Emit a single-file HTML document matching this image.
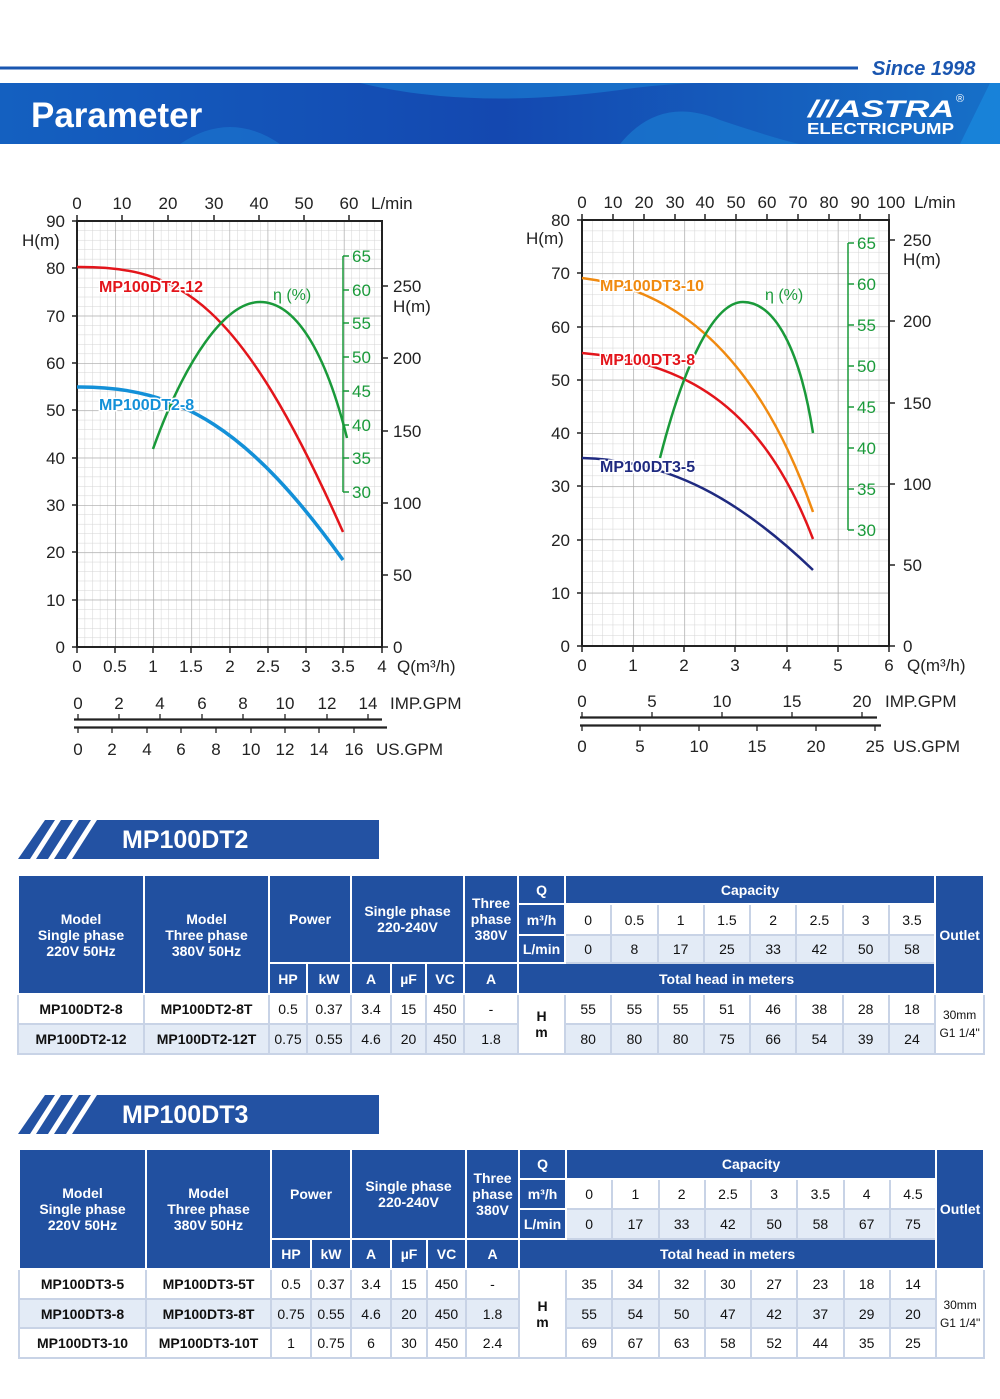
<!DOCTYPE html>
<html><head><meta charset="utf-8"><style>
body{margin:0;width:1000px;height:1399px;position:relative;background:#fff;font-family:"Liberation Sans",Arial,sans-serif;overflow:hidden}
svg{position:absolute;left:0;top:0}
table{position:absolute;border-collapse:collapse;table-layout:fixed;font-family:"Liberation Sans",Arial,sans-serif;font-size:14px;border:2px solid #2a5aa8}
td{border:2px solid #fff;text-align:center;padding:0;color:#111;overflow:hidden;white-space:nowrap}
td.h{background:#2150a0;color:#fff;font-weight:bold;line-height:16px}
td.w{background:#fff;border-color:#c8d3e6}
td.l{background:#e3ebf6;border-color:#c8d3e6}
td.b{font-weight:bold}
td.o{font-size:12px;line-height:18px;background:#fff;border-color:#c8d3e6}
.lab{paint-order:stroke;stroke:#fff;stroke-width:3px;font-weight:bold;font-size:16px}
</style></head><body>
<svg width="1000" height="1399" viewBox="0 0 1000 1399">
<defs>
<linearGradient id="bg" x1="0" x2="1" y1="0" y2="0"><stop offset="0" stop-color="#1460c0"/><stop offset="0.5" stop-color="#1448b0"/><stop offset="1" stop-color="#1670c8"/></linearGradient>
<pattern id="lmin" patternUnits="userSpaceOnUse" x="77" y="647" width="7.625" height="9.466"><path d="M0 0V9.466M0 0H7.625" stroke="#d4d4d4" stroke-width="1" fill="none"/></pattern>
<pattern id="lmaj" patternUnits="userSpaceOnUse" x="77" y="647" width="38.125" height="47.33"><path d="M0 0V47.33M0 0H38.125" stroke="#a8a8a8" stroke-width="1.2" fill="none"/></pattern>
<pattern id="rmin" patternUnits="userSpaceOnUse" x="582" y="646" width="10.233" height="10.65"><path d="M0 0V10.65M0 0H10.233" stroke="#d4d4d4" stroke-width="1" fill="none"/></pattern>
<pattern id="rmaj" patternUnits="userSpaceOnUse" x="582" y="646" width="51.17" height="53.25"><path d="M0 0V53.25M0 0H51.17" stroke="#a8a8a8" stroke-width="1.2" fill="none"/></pattern>
</defs>
<rect x="0" y="66.5" width="858" height="3" fill="#1a56b0"/>
<text x="872" y="75" font-size="20" font-weight="bold" font-style="italic" fill="#1a56b0">Since 1998</text>
<rect x="0" y="83" width="1000" height="61" fill="url(#bg)"/>
<path d="M360 83 Q470 110 620 90 Q660 84 700 83Z" fill="#1a7ad0" opacity="0.7"/>
<path d="M180 144 Q230 110 280 144Z" fill="#1a78d0" opacity="0.6"/>
<path d="M620 144 Q660 95 720 120 Q780 140 800 144Z" fill="#1a7ad0" opacity="0.7"/>
<path d="M960 144 L990 83 L1000 83 L1000 144Z" fill="#1a8ae0" opacity="0.7"/>
<text x="31" y="127" font-size="35" font-weight="bold" fill="#fff">Parameter</text>
<text x="808" y="117" font-size="24" font-weight="900" font-style="italic" fill="#fff" textLength="146" lengthAdjust="spacingAndGlyphs">///ASTRA</text>
<text x="956" y="102" font-size="11" fill="#fff">®</text>
<text x="807" y="134" font-size="16" font-weight="bold" fill="#fff" textLength="147" lengthAdjust="spacingAndGlyphs">ELECTRICPUMP</text>

<g font-size="17" fill="#222">
<rect x="77" y="221" width="305" height="426" fill="url(#lmin)"/>
<rect x="77" y="221" width="305" height="426" fill="url(#lmaj)"/>
<rect x="77" y="221" width="305" height="426" fill="none" stroke="#222" stroke-width="2"/>
<g stroke="#222" stroke-width="1.5">
<path d="M72 221H77M72 268H77M72 316H77M72 363H77M72 410H77M72 458H77M72 505H77M72 552H77M72 600H77M72 647H77"/>
<path d="M382 286H388M382 358H388M382 431H388M382 503H388M382 575H388M382 647H388"/>
<path d="M77 647V653M115 647V653M153 647V653M191 647V653M230 647V653M268 647V653M306 647V653M343 647V653M382 647V653"/>
<path d="M77 221V215M122 221V215M168 221V215M214 221V215M259 221V215M304 221V215M349 221V215"/>
</g>
<g text-anchor="end"><text x="65" y="227">90</text><text x="65" y="274">80</text><text x="65" y="322">70</text><text x="65" y="369">60</text><text x="65" y="416">50</text><text x="65" y="464">40</text><text x="65" y="511">30</text><text x="65" y="558">20</text><text x="65" y="606">10</text><text x="65" y="653">0</text></g>
<text x="22" y="246">H(m)</text>
<g text-anchor="middle"><text x="77" y="209">0</text><text x="122" y="209">10</text><text x="168" y="209">20</text><text x="214" y="209">30</text><text x="259" y="209">40</text><text x="304" y="209">50</text><text x="349" y="209">60</text>
<text x="77" y="672">0</text><text x="115" y="672">0.5</text><text x="153" y="672">1</text><text x="191" y="672">1.5</text><text x="230" y="672">2</text><text x="268" y="672">2.5</text><text x="306" y="672">3</text><text x="343" y="672">3.5</text><text x="382" y="672">4</text></g>
<text x="371" y="209">L/min</text>
<text x="397" y="672">Q(m³/h)</text>
<text x="393" y="292">250</text><text x="393" y="312">H(m)</text><text x="393" y="364">200</text><text x="393" y="437">150</text><text x="393" y="509">100</text><text x="393" y="581">50</text><text x="393" y="653">0</text>
<path d="M343 256V492M343 256H349M343 290H349M343 323H349M343 357H349M343 391H349M343 425H349M343 458H349M343 492H349" stroke="#1a9a3a" stroke-width="1.5" fill="none"/>
<g fill="#1a9a3a"><text x="352" y="262">65</text><text x="352" y="296">60</text><text x="352" y="329">55</text><text x="352" y="363">50</text><text x="352" y="397">45</text><text x="352" y="431">40</text><text x="352" y="464">35</text><text x="352" y="498">30</text><text x="273" y="300" font-size="16">η (%)</text></g>
<path fill="none" stroke="#e3151b" stroke-width="2.5" d="M77,267 C180,266 240,300 343,532"/>
<path fill="none" stroke="#1390d8" stroke-width="3.5" d="M77,387 C180,386 250,430 343,560"/>
<path fill="none" stroke="#1a9a3a" stroke-width="2.5" d="M153,449 C185,360 225,302 260,302 C295,302 325,350 347,438"/>
<text x="99" y="292" fill="#e3151b" class="lab">MP100DT2-12</text>
<text x="99" y="410" fill="#1390d8" class="lab">MP100DT2-8</text>
<g text-anchor="middle"><text x="78" y="709">0</text><text x="119" y="709">2</text><text x="160" y="709">4</text><text x="202" y="709">6</text><text x="243" y="709">8</text><text x="285" y="709">10</text><text x="327" y="709">12</text><text x="368" y="709">14</text>
<text x="78" y="755">0</text><text x="112" y="755">2</text><text x="147" y="755">4</text><text x="181" y="755">6</text><text x="216" y="755">8</text><text x="251" y="755">10</text><text x="285" y="755">12</text><text x="319" y="755">14</text><text x="354" y="755">16</text></g>
<text x="390" y="709">IMP.GPM</text><text x="376" y="755">US.GPM</text>
<path d="M74 719.5H382M74 727.5H387" stroke="#222" stroke-width="2.2"/>
<path d="M78 714V719M119 714V719M160 714V719M202 714V719M243 714V719M285 714V719M327 714V719M368 714V719M78 728V733M112 728V733M147 728V733M181 728V733M216 728V733M251 728V733M285 728V733M319 728V733M354 728V733" stroke="#222" stroke-width="1.3"/>
</g>

<g font-size="17" fill="#222">
<rect x="582" y="220" width="307" height="426" fill="url(#rmin)"/>
<rect x="582" y="220" width="307" height="426" fill="url(#rmaj)"/>
<rect x="582" y="220" width="307" height="426" fill="none" stroke="#222" stroke-width="2"/>
<g stroke="#222" stroke-width="1.5">
<path d="M577 220H582M577 273H582M577 327H582M577 380H582M577 433H582M577 486H582M577 540H582M577 593H582M577 646H582"/>
<path d="M889 240H895M889 321H895M889 403H895M889 484H895M889 565H895M889 646H895"/>
<path d="M582 646V652M633 646V652M684 646V652M735 646V652M787 646V652M838 646V652M889 646V652"/>
<path d="M582 220V214M613 220V214M644 220V214M675 220V214M705 220V214M736 220V214M767 220V214M798 220V214M829 220V214M860 220V214M889 220V214"/>
</g>
<g text-anchor="end"><text x="570" y="226">80</text><text x="570" y="279">70</text><text x="570" y="333">60</text><text x="570" y="386">50</text><text x="570" y="439">40</text><text x="570" y="492">30</text><text x="570" y="546">20</text><text x="570" y="599">10</text><text x="570" y="652">0</text></g>
<text x="526" y="244">H(m)</text>
<g text-anchor="middle"><text x="582" y="208">0</text><text x="613" y="208">10</text><text x="644" y="208">20</text><text x="675" y="208">30</text><text x="705" y="208">40</text><text x="736" y="208">50</text><text x="767" y="208">60</text><text x="798" y="208">70</text><text x="829" y="208">80</text><text x="860" y="208">90</text><text x="891" y="208">100</text>
<text x="582" y="671">0</text><text x="633" y="671">1</text><text x="684" y="671">2</text><text x="735" y="671">3</text><text x="787" y="671">4</text><text x="838" y="671">5</text><text x="889" y="671">6</text></g>
<text x="914" y="208">L/min</text>
<text x="907" y="671">Q(m³/h)</text>
<text x="903" y="246">250</text><text x="903" y="265">H(m)</text><text x="903" y="327">200</text><text x="903" y="409">150</text><text x="903" y="490">100</text><text x="903" y="571">50</text><text x="903" y="652">0</text>
<path d="M848 243V530M848 243H854M848 284H854M848 325H854M848 366H854M848 407H854M848 448H854M848 489H854M848 530H854" stroke="#1a9a3a" stroke-width="1.5" fill="none"/>
<g fill="#1a9a3a"><text x="857" y="249">65</text><text x="857" y="290">60</text><text x="857" y="331">55</text><text x="857" y="372">50</text><text x="857" y="413">45</text><text x="857" y="454">40</text><text x="857" y="495">35</text><text x="857" y="536">30</text><text x="765" y="300" font-size="16">η (%)</text></g>
<path fill="none" stroke="#f08a10" stroke-width="2.5" d="M582,278 C680,290 760,360 813,512"/>
<path fill="none" stroke="#e3151b" stroke-width="2.5" d="M582,353 C680,362 760,400 813,539"/>
<path fill="none" stroke="#1f2a80" stroke-width="2.5" d="M582,458 C670,460 740,500 813,570"/>
<path fill="none" stroke="#1a9a3a" stroke-width="2.5" d="M660,458 C685,360 715,302 743,302 C775,302 800,350 813,433"/>
<text x="600" y="291" fill="#f08a10" class="lab">MP100DT3-10</text>
<text x="600" y="365" fill="#e3151b" class="lab">MP100DT3-8</text>
<text x="600" y="472" fill="#1f2a80" class="lab">MP100DT3-5</text>
<g text-anchor="middle"><text x="582" y="707">0</text><text x="652" y="707">5</text><text x="722" y="707">10</text><text x="792" y="707">15</text><text x="862" y="707">20</text>
<text x="582" y="752">0</text><text x="640" y="752">5</text><text x="699" y="752">10</text><text x="757" y="752">15</text><text x="816" y="752">20</text><text x="875" y="752">25</text></g>
<text x="885" y="707">IMP.GPM</text><text x="893" y="752">US.GPM</text>
<path d="M580 717.5H877M580 725.5H881" stroke="#222" stroke-width="2.2"/>
<path d="M582 712V717M652 712V717M722 712V717M792 712V717M862 712V717M582 726V731M640 726V731M699 726V731M757 726V731M816 726V731M875 726V731" stroke="#222" stroke-width="1.3"/>
</g>

<polygon points="18,859 45,820 379,820 379,859" fill="#2352a3"/>
<g fill="#fff"><polygon points="30,859 36,859 61,820 55,820"/><polygon points="48,859 54,859 79,820 73,820"/><polygon points="66,859 72,859 97,820 91,820"/></g>
<text x="122" y="848" font-size="25" font-weight="bold" fill="#fff">MP100DT2</text>
<polygon points="18,1134 45,1095 379,1095 379,1134" fill="#2352a3"/>
<g fill="#fff"><polygon points="30,1134 36,1134 61,1095 55,1095"/><polygon points="48,1134 54,1134 79,1095 73,1095"/><polygon points="66,1134 72,1134 97,1095 91,1095"/></g>
<text x="122" y="1123" font-size="25" font-weight="bold" fill="#fff">MP100DT3</text>
</svg>

<table style="left:17px;top:874px;width:966px">
<colgroup><col style="width:126px"><col style="width:125px"><col style="width:38px"><col style="width:44px"><col style="width:40px"><col style="width:35px"><col style="width:38px"><col style="width:54px"><col style="width:47px"><col span="8" style="width:46.25px"><col style="width:49px"></colgroup>
<tr style="height:29px"><td class="h" rowspan="4">Model<br>Single phase<br>220V 50Hz</td><td class="h" rowspan="4">Model<br>Three phase<br>380V 50Hz</td><td class="h" colspan="2" rowspan="3">Power</td><td class="h" colspan="3" rowspan="3">Single phase<br>220-240V</td><td class="h" rowspan="3">Three<br>phase<br>380V</td><td class="h">Q</td><td class="h" colspan="8">Capacity</td><td class="h" rowspan="4">Outlet</td></tr>
<tr style="height:31px"><td class="h">m³/h</td><td class="w">0</td><td class="w">0.5</td><td class="w">1</td><td class="w">1.5</td><td class="w">2</td><td class="w">2.5</td><td class="w">3</td><td class="w">3.5</td></tr>
<tr style="height:28px"><td class="h">L/min</td><td class="l">0</td><td class="l">8</td><td class="l">17</td><td class="l">25</td><td class="l">33</td><td class="l">42</td><td class="l">50</td><td class="l">58</td></tr>
<tr style="height:31px"><td class="h">HP</td><td class="h">kW</td><td class="h">A</td><td class="h">µF</td><td class="h">VC</td><td class="h">A</td><td class="h" colspan="9">Total head in meters</td></tr>
<tr style="height:30px"><td class="w b">MP100DT2-8</td><td class="w b">MP100DT2-8T</td><td class="w">0.5</td><td class="w">0.37</td><td class="w">3.4</td><td class="w">15</td><td class="w">450</td><td class="w">-</td><td class="w b" rowspan="2" style="line-height:16px">H<br>m</td><td class="w">55</td><td class="w">55</td><td class="w">55</td><td class="w">51</td><td class="w">46</td><td class="w">38</td><td class="w">28</td><td class="w">18</td><td class="o" rowspan="2">30mm<br>G1 1/4"</td></tr>
<tr style="height:30px"><td class="l b">MP100DT2-12</td><td class="l b">MP100DT2-12T</td><td class="l">0.75</td><td class="l">0.55</td><td class="l">4.6</td><td class="l">20</td><td class="l">450</td><td class="l">1.8</td><td class="l">80</td><td class="l">80</td><td class="l">80</td><td class="l">75</td><td class="l">66</td><td class="l">54</td><td class="l">39</td><td class="l">24</td></tr>
</table>

<table style="left:18px;top:1148px;width:965px">
<colgroup><col style="width:127px"><col style="width:125px"><col style="width:40px"><col style="width:40px"><col style="width:40px"><col style="width:36px"><col style="width:39px"><col style="width:53px"><col style="width:47px"><col span="8" style="width:46.25px"><col style="width:48px"></colgroup>
<tr style="height:30px"><td class="h" rowspan="4">Model<br>Single phase<br>220V 50Hz</td><td class="h" rowspan="4">Model<br>Three phase<br>380V 50Hz</td><td class="h" colspan="2" rowspan="3">Power</td><td class="h" colspan="3" rowspan="3">Single phase<br>220-240V</td><td class="h" rowspan="3">Three<br>phase<br>380V</td><td class="h">Q</td><td class="h" colspan="8">Capacity</td><td class="h" rowspan="4">Outlet</td></tr>
<tr style="height:30px"><td class="h">m³/h</td><td class="w">0</td><td class="w">1</td><td class="w">2</td><td class="w">2.5</td><td class="w">3</td><td class="w">3.5</td><td class="w">4</td><td class="w">4.5</td></tr>
<tr style="height:30px"><td class="h">L/min</td><td class="l">0</td><td class="l">17</td><td class="l">33</td><td class="l">42</td><td class="l">50</td><td class="l">58</td><td class="l">67</td><td class="l">75</td></tr>
<tr style="height:30px"><td class="h">HP</td><td class="h">kW</td><td class="h">A</td><td class="h">µF</td><td class="h">VC</td><td class="h">A</td><td class="h" colspan="9">Total head in meters</td></tr>
<tr style="height:30px"><td class="w b">MP100DT3-5</td><td class="w b">MP100DT3-5T</td><td class="w">0.5</td><td class="w">0.37</td><td class="w">3.4</td><td class="w">15</td><td class="w">450</td><td class="w">-</td><td class="w b" rowspan="3" style="line-height:16px">H<br>m</td><td class="w">35</td><td class="w">34</td><td class="w">32</td><td class="w">30</td><td class="w">27</td><td class="w">23</td><td class="w">18</td><td class="w">14</td><td class="o" rowspan="3">30mm<br>G1 1/4"</td></tr>
<tr style="height:29px"><td class="l b">MP100DT3-8</td><td class="l b">MP100DT3-8T</td><td class="l">0.75</td><td class="l">0.55</td><td class="l">4.6</td><td class="l">20</td><td class="l">450</td><td class="l">1.8</td><td class="l">55</td><td class="l">54</td><td class="l">50</td><td class="l">47</td><td class="l">42</td><td class="l">37</td><td class="l">29</td><td class="l">20</td></tr>
<tr style="height:30px"><td class="w b">MP100DT3-10</td><td class="w b">MP100DT3-10T</td><td class="w">1</td><td class="w">0.75</td><td class="w">6</td><td class="w">30</td><td class="w">450</td><td class="w">2.4</td><td class="w">69</td><td class="w">67</td><td class="w">63</td><td class="w">58</td><td class="w">52</td><td class="w">44</td><td class="w">35</td><td class="w">25</td></tr>
</table>
</body></html>
